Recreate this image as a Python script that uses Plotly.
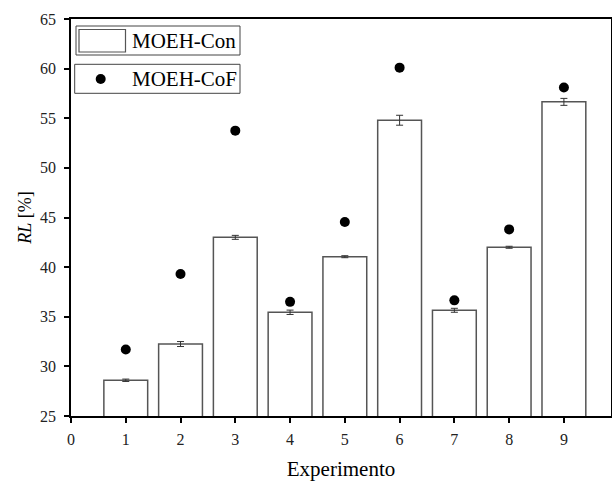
import plotly.graph_objects as go

experiments = [1, 2, 3, 4, 5, 6, 7, 8, 9]
con_values = [28.6, 32.25, 43.0, 35.45, 41.05, 54.8, 35.65, 42.0, 56.65]
con_errors = [0.12, 0.25, 0.2, 0.22, 0.1, 0.5, 0.2, 0.1, 0.35]
cof_values = [31.7, 39.3, 53.75, 36.5, 44.55, 60.1, 36.65, 43.8, 58.1]
series_names = ["MOEH-Con", "MOEH-CoF"]
x_ticks = [0, 1, 2, 3, 4, 5, 6, 7, 8, 9]
y_ticks = [25, 30, 35, 40, 45, 50, 55, 60, 65]

FONT = "Liberation Serif"
W, H = 612, 481
ML, MR, MT, MB = 71, 1, 19, 65
PW, PH = W - ML - MR, H - MT - MB


def px(x):
    return (x - ML) / PW


def py(y):
    return (H - MB - y) / PH


fig = go.Figure()
fig.add_trace(go.Bar(
    x=experiments, y=con_values, name=series_names[0], width=0.8,
    base=0, showlegend=False,
    marker=dict(color="white", line=dict(color="#555555", width=1.5)),
    error_y=dict(type="data", array=con_errors, color="#333333", thickness=1, width=3.5),
))
fig.add_trace(go.Scatter(
    x=experiments, y=cof_values, name=series_names[1], mode="markers",
    showlegend=False,
    marker=dict(color="black", size=10, symbol="circle"),
))

# Legend drawn as two separate framed boxes (as in the reference)
shapes = [
    dict(type="rect", xref="paper", yref="paper", x0=px(76), x1=px(240), y0=py(55), y1=py(26),
         line=dict(color="#444444", width=1), fillcolor="white", layer="above"),
    dict(type="rect", xref="paper", yref="paper", x0=px(79), x1=px(125.5), y0=py(52), y1=py(29.5),
         line=dict(color="#555555", width=1.2), fillcolor="white", layer="above"),
    dict(type="rect", xref="paper", yref="paper", x0=px(74.7), x1=px(240), y0=py(93.3), y1=py(64.3),
         line=dict(color="#444444", width=1), fillcolor="white", layer="above"),
    dict(type="circle", xref="paper", yref="paper", x0=px(95.7), x1=px(105.7), y0=py(84), y1=py(74),
         line=dict(color="black", width=0), fillcolor="black", layer="above"),
]
annotations = [
    dict(text=series_names[0], xref="paper", yref="paper", x=px(130), y=py(41),
         xanchor="left", yanchor="middle", showarrow=False,
         font=dict(family=FONT, size=21, color="black")),
    dict(text=series_names[1], xref="paper", yref="paper", x=px(129.5), y=py(78.5),
         xanchor="left", yanchor="middle", showarrow=False,
         font=dict(family=FONT, size=21, color="black")),
]

fig.update_layout(
    width=W, height=H,
    margin=dict(l=ML, r=MR, t=MT, b=MB),
    paper_bgcolor="white", plot_bgcolor="white",
    font=dict(family=FONT, size=16, color="black"),
    barmode="overlay",
    showlegend=False,
    shapes=shapes,
    annotations=annotations,
    xaxis=dict(
        range=[0, 9.86], tickvals=x_ticks, ticktext=[str(v) for v in x_ticks],
        ticks="outside", ticklen=5, tickwidth=1.5, tickcolor="black",
        showline=True, linecolor="black", linewidth=1.5, mirror=True,
        showgrid=False, zeroline=False, automargin=False,
        ticklabelstandoff=3,
        tickfont=dict(family=FONT, size=16, color="#222222"),
        title=dict(text="Experimento", font=dict(family=FONT, size=21), standoff=14),
    ),
    yaxis=dict(
        range=[25, 65], tickvals=y_ticks, ticktext=[str(v) for v in y_ticks],
        ticks="outside", ticklen=5, tickwidth=1.5, tickcolor="black",
        showline=True, linecolor="black", linewidth=1.5, mirror=True,
        showgrid=False, zeroline=False, automargin=False,
        ticklabelstandoff=5,
        tickfont=dict(family=FONT, size=16, color="#222222"),
        title=dict(text="<i>RL</i> [%]", font=dict(family=FONT, size=18), standoff=4),
    ),
)

fig.write_html("out.html", config={"displayModeBar": False},
               post_script="document.body.style.margin='0';document.body.style.padding='0';")
